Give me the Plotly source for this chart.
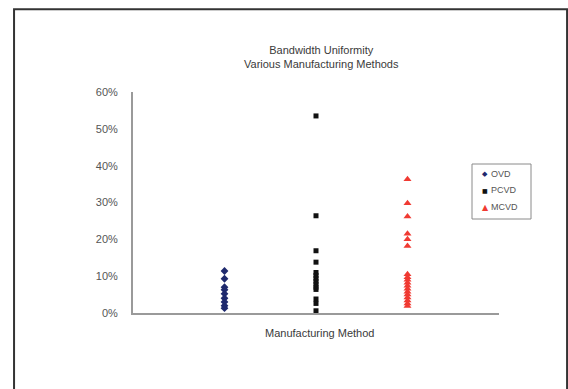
import plotly.graph_objects as go

# Bandwidth uniformity (%) by manufacturing method
methods = ["OVD", "PCVD", "MCVD"]
method_pos = [1, 2, 3]

ovd = [11.4, 9.3, 7.0, 6.3, 5.2, 4.0, 3.0, 2.0, 1.3]
pcvd = [53.5, 26.4, 16.9, 13.8, 11.0, 10.2, 9.4, 8.6, 7.8, 7.0, 6.4, 3.8, 2.6, 0.6]
mcvd = [36.3, 29.8, 26.2, 21.5, 20.0, 18.2, 10.5, 9.7, 9.0, 8.2, 7.4,
        6.6, 5.8, 5.0, 4.2, 3.4, 2.6, 1.9]

y_ticks = [0, 10, 20, 30, 40, 50, 60]
y_tick_text = ["0%", "10%", "20%", "30%", "40%", "50%", "60%"]

colors = ["#1f2a6e", "#111111", "#f03a32"]
symbols = ["diamond", "square", "triangle-up"]
sizes = [6, 5, 7]
legend_glyphs = ["\u25C6", "\u25A0", "\u25B2"]
legend_glyph_sizes = [7, 6, 8]

fig = go.Figure()
for name, pos, vals, sym, col, size in zip(methods, method_pos,
                                           [ovd, pcvd, mcvd], symbols, colors, sizes):
    fig.add_trace(go.Scatter(
        x=[pos] * len(vals), y=vals, mode="markers", name=name,
        marker=dict(symbol=sym, color=col, size=size, line=dict(width=0)),
    ))

font = "Liberation Sans, Arial, sans-serif"

fig.update_layout(
    width=568, height=389,
    margin=dict(l=133, r=69, t=92, b=76),
    paper_bgcolor="white", plot_bgcolor="white",
    font=dict(family=font, size=11, color="#444444"),
    showlegend=False,
    xaxis=dict(
        range=[0, 4], showticklabels=False, ticks="", showgrid=False,
        zeroline=False, showline=True, linecolor="#9a9a9a", linewidth=2,
    ),
    yaxis=dict(
        range=[0, 60], tickvals=y_ticks, ticktext=y_tick_text,
        showgrid=False, zeroline=False, showline=True,
        linecolor="#9a9a9a", linewidth=2, ticks="", ticklen=0,
        ticklabelstandoff=11,
        tickfont=dict(size=11, color="#555555"),
    ),
)

fig.add_annotation(
    text="Bandwidth Uniformity<br>Various Manufacturing Methods",
    xref="paper", yref="paper", x=0.516, y=1.16,
    xanchor="center", yanchor="middle", showarrow=False,
    font=dict(size=11, color="#3a3a3a"),
)
fig.add_annotation(
    text="Manufacturing Method",
    xref="paper", yref="paper", x=0.509, y=-0.092,
    xanchor="center", yanchor="middle", showarrow=False,
    font=dict(size=11, color="#3a3a3a"),
)

# Legend box with one row per method
W, H = 366.0, 221.0  # plot area size in px (for paper coordinates)
def px_x(px):
    return (px - 133) / W
def px_y(py):
    return (313 - py) / H

fig.add_shape(
    type="rect", xref="paper", yref="paper",
    x0=px_x(472), x1=px_x(531), y0=px_y(219), y1=px_y(164),
    line=dict(color="#8a8a8a", width=1), fillcolor="white", layer="above",
)
row_y = [174, 190, 207]
for name, col, glyph, gsize, ry in zip(methods, colors, legend_glyphs,
                                       legend_glyph_sizes, row_y):
    fig.add_annotation(
        text=glyph, xref="paper", yref="paper", x=px_x(485), y=px_y(ry),
        xanchor="center", yanchor="middle", showarrow=False,
        font=dict(family="DejaVu Sans", size=gsize, color=col),
    )
    fig.add_annotation(
        text=name, xref="paper", yref="paper", x=px_x(489), y=px_y(ry),
        xanchor="left", yanchor="middle", showarrow=False,
        font=dict(size=9, color="#555555"),
    )

# Chart frame: left, top and right edges
fig.add_shape(
    type="path", xref="paper", yref="paper",
    path="M -0.325 -0.40 L -0.325 1.375 L 1.186 1.375 L 1.186 -0.40",
    line=dict(color="#333333", width=2),
)

fig.write_html("out.html")
